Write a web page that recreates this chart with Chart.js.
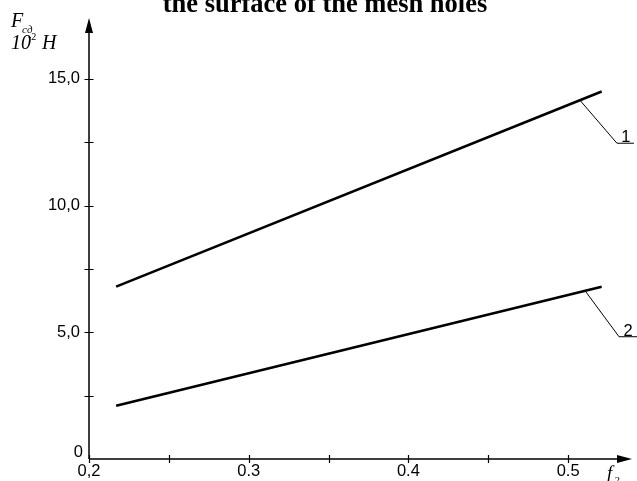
<!DOCTYPE html>
<html>
<head>
<meta charset="utf-8">
<script src="https://cdn.jsdelivr.net/npm/chart.js@4/dist/chart.umd.min.js"></script>
<style>
  html, body { margin: 0; padding: 0; background: #fff; }
  #wrap { width: 637px; height: 481px; }
</style>
</head>
<body>
<div id="wrap"><canvas id="c" width="637" height="481"></canvas></div>
<script>
// Friction force against the share of free mesh-hole surface
const fShare = [0.217, 0.521];          // f2 at both ends of each line
const force1 = [6.8, 14.5];             // line 1, 10^2 N
const force2 = [2.1, 6.8];              // line 2, 10^2 N
const lineNames = ['1', '2'];

const xTickValues = [0.2, 0.25, 0.3, 0.35, 0.4, 0.45, 0.5];
const xLabelValues = [0.2, 0.3, 0.4, 0.5];
const xLabelTexts = ['0,2', '0.3', '0.4', '0.5'];
const yTickValues = [2.5, 5, 7.5, 10, 12.5, 15];
const yLabelValues = [0, 5, 10, 15];
const yLabelTexts = ['0', '5,0', '10,0', '15,0'];

const titleText = 'the surface of the mesh holes';

const toPoints = ys => fShare.map((x, i) => ({ x: x, y: ys[i] }));

// callouts: which series, where along it the leader starts
const callouts = [
  { series: 0, at: 0.5074, dx: 37, dy: 43, shelf: 17 },
  { series: 1, at: 0.5106, dx: 34, dy: 46, shelf: 18 }
];

const SANS = '"Liberation Sans", Arial, sans-serif';
const SERIF = '"Liberation Serif", "Times New Roman", serif';

const axesPlugin = {
  id: 'drawnAxes',
  afterDraw(chart) {
    const ctx = chart.ctx;
    const xs = chart.scales.x, ys = chart.scales.y;
    const a = chart.chartArea;
    const x0 = a.left, y0 = a.bottom;
    ctx.save();
    ctx.strokeStyle = '#000';
    ctx.fillStyle = '#000';

    // title, partly running off the top edge
    ctx.font = 'bold 26.5px ' + SERIF;
    ctx.textAlign = 'center';
    ctx.textBaseline = 'alphabetic';
    ctx.fillText(titleText, 325, 12);

    // axis lines
    ctx.lineWidth = 1.5;
    ctx.beginPath();
    ctx.moveTo(x0, y0);
    ctx.lineTo(x0, a.top + 8);
    ctx.moveTo(x0, y0);
    ctx.lineTo(a.right - 8, y0);
    ctx.stroke();

    // arrow heads
    ctx.beginPath();
    ctx.moveTo(x0, a.top);
    ctx.lineTo(x0 - 4, a.top + 15);
    ctx.lineTo(x0 + 4, a.top + 15);
    ctx.closePath();
    ctx.fill();
    ctx.beginPath();
    ctx.moveTo(a.right, y0);
    ctx.lineTo(a.right - 15, y0 - 4);
    ctx.lineTo(a.right - 15, y0 + 4);
    ctx.closePath();
    ctx.fill();

    // tick crosses
    ctx.lineWidth = 1.2;
    ctx.beginPath();
    yTickValues.forEach(v => {
      const py = Math.round(ys.getPixelForValue(v)) + 0.5;
      ctx.moveTo(x0 - 4.5, py);
      ctx.lineTo(x0 + 4.5, py);
    });
    xTickValues.forEach(v => {
      const px = Math.round(xs.getPixelForValue(v)) + 0.5;
      ctx.moveTo(px, y0 - 4);
      ctx.lineTo(px, y0 + 4);
    });
    ctx.stroke();

    // tick labels
    ctx.font = '16.5px ' + SANS;
    ctx.textAlign = 'right';
    ctx.textBaseline = 'middle';
    yLabelValues.forEach((v, i) => {
      let py = ys.getPixelForValue(v);
      if (v === 0) py -= 7;
      const px = v === 0 ? 83 : 80;
      ctx.fillText(yLabelTexts[i], px, py);
    });
    ctx.textAlign = 'center';
    ctx.textBaseline = 'top';
    xLabelValues.forEach((v, i) => {
      ctx.fillText(xLabelTexts[i], xs.getPixelForValue(v), y0 + 4);
    });

    // y axis title: F_сд, 10^-2 Н
    ctx.textAlign = 'left';
    ctx.textBaseline = 'alphabetic';
    ctx.font = 'italic 20px ' + SERIF;
    ctx.fillText('F', 11, 27);
    ctx.fillText('10', 11, 49);
    ctx.fillText('Н', 42, 49);
    ctx.font = 'italic 11px ' + SERIF;
    ctx.fillText('сд', 22, 33);
    ctx.font = '10px ' + SERIF;
    ctx.fillText('-2', 28, 40);

    // x axis title: f2
    ctx.font = 'italic 19px ' + SERIF;
    ctx.fillText('f', 607, 479);
    ctx.font = 'italic 11px ' + SERIF;
    ctx.fillText('2', 614, 484);

    // leaders with line numbers
    ctx.lineWidth = 1;
    callouts.forEach(c => {
      const ds = chart.data.datasets[c.series].data;
      const t = (c.at - ds[0].x) / (ds[1].x - ds[0].x);
      const yv = ds[0].y + t * (ds[1].y - ds[0].y);
      const ax = xs.getPixelForValue(c.at), ay = ys.getPixelForValue(yv);
      const ex = ax + c.dx, ey = ay + c.dy;
      ctx.beginPath();
      ctx.moveTo(ax, ay);
      ctx.lineTo(ex, ey);
      ctx.lineTo(ex + c.shelf, ey);
      ctx.stroke();
      ctx.font = '16.5px ' + SANS;
      ctx.textAlign = 'center';
      ctx.textBaseline = 'alphabetic';
      ctx.fillText(lineNames[c.series], ex + 9, ey - 1);
    });
    ctx.restore();
  }
};

new Chart(document.getElementById('c'), {
  type: 'scatter',
  data: {
    datasets: [
      { label: lineNames[0], data: toPoints(force1) },
      { label: lineNames[1], data: toPoints(force2) }
    ].map(d => Object.assign(d, {
      showLine: true,
      borderColor: '#000',
      backgroundColor: '#000',
      borderWidth: 2.6,
      pointRadius: 0,
      tension: 0
    }))
  },
  options: {
    responsive: false,
    devicePixelRatio: 1,
    animation: false,
    layout: { padding: { left: 89, right: 5, top: 18, bottom: 22 } },
    plugins: { legend: { display: false }, title: { display: false }, tooltip: { enabled: false } },
    scales: {
      x: { type: 'linear', display: false, min: 0.2, max: 0.54 },
      y: { type: 'linear', display: false, min: 0, max: 17.4 }
    }
  },
  plugins: [axesPlugin]
});
</script>
</body>
</html>
